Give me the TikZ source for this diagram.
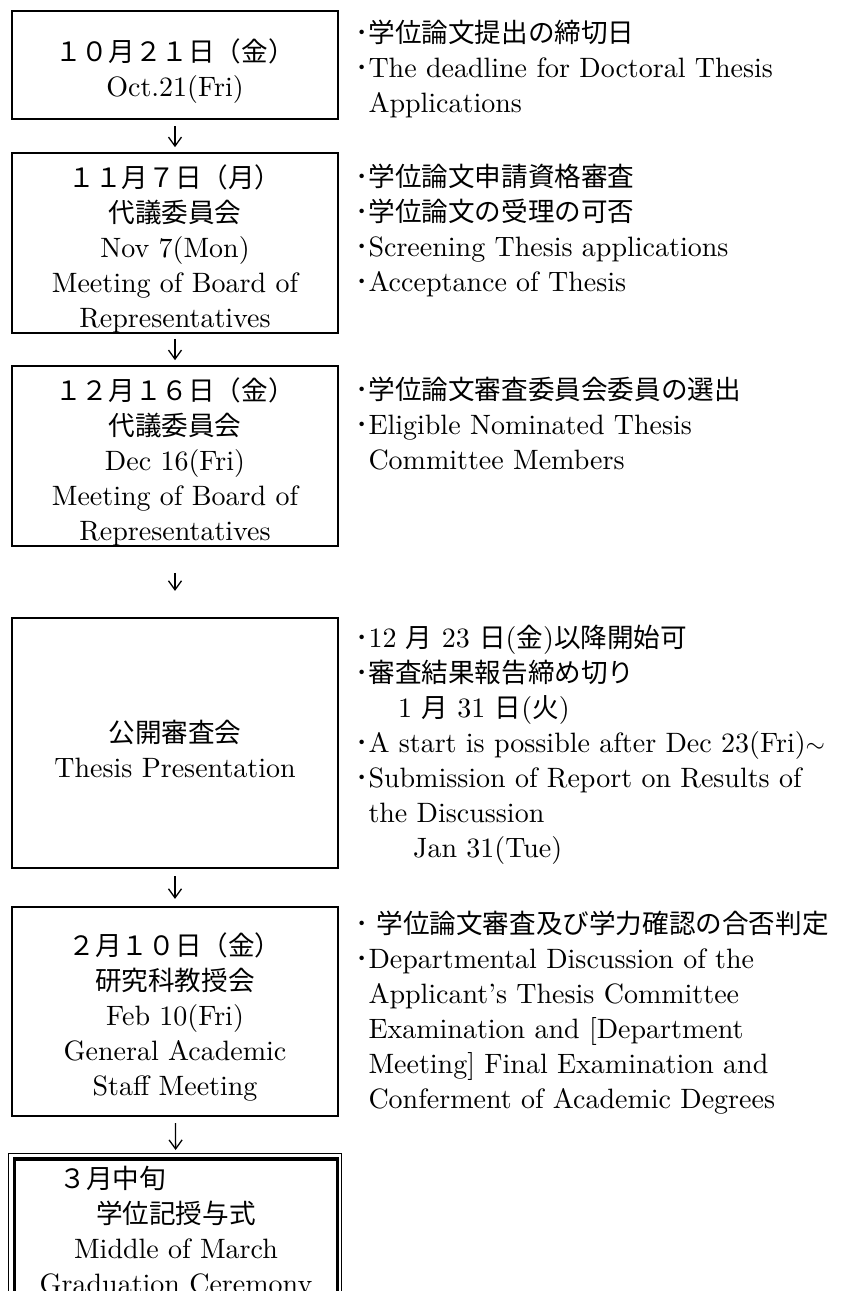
\documentclass[tikz,border=0pt]{standalone}
\usepackage{fontspec}
\setmainfont{lmroman10-regular.otf}[BoldFont=lmroman10-bold.otf, ItalicFont=lmroman10-italic.otf]
\newfontfamily\jpfont{Noto Sans CJK JP}[Scale=0.95]
\newcommand{\ja}[1]{{\jpfont #1}}
\newcommand{\bul}{\ja{･}}
\newcommand{\nobul}{\phantom{\ja{･}}}
\usetikzlibrary{arrows.meta, positioning}

\tikzset{
  stepbox/.style={draw, line width=2.2pt, minimum width=326pt, text width=310pt,
    align=center, inner sep=0pt, font=\fontsize{28}{35}\selectfont},
  textlow/.style={execute at begin node={\rule{0pt}{34pt}}},
  note/.style={anchor=north west, align=left, inner sep=0pt,
    font=\fontsize{28}{35}\selectfont},
  flow/.style={-{Straight Barb[length=9pt,width=13pt]}, line width=1.3pt},
}

\begin{document}
\begin{tikzpicture}[x=1pt, y=-1pt]
  \useasboundingbox (0,0) rectangle (859,1291);

  % schedule boxes
  \node[stepbox, textlow, minimum height=108pt] (oct) at (175,65)
    {\ja{１０月２１日（金）}\\Oct.21(Fri)};
  \node[stepbox, textlow, minimum height=176pt] (nov) at (175,243)
    {\ja{１１月７日（月）}\\\ja{代議委員会}\\Nov 7(Mon)\\Meeting of Board of\\Representatives};
  \node[stepbox, textlow, minimum height=176pt] (dec) at (175,456)
    {\ja{１２月１６日（金）}\\\ja{代議委員会}\\Dec 16(Fri)\\Meeting of Board of\\Representatives};
  \node[stepbox, textlow, minimum height=250pt] (pres) at (175,743)
    {\ja{公開審査会}\\Thesis Presentation};
  \node[stepbox, textlow, minimum height=209pt] (feb) at (175,1011.5)
    {\ja{２月１０日（金）}\\\ja{研究科教授会}\\Feb 10(Fri)\\General Academic\\Staff Meeting};
  \node[stepbox, line width=3.5pt, minimum width=323pt, anchor=north, inner ysep=7pt] (mar) at (176,1157)
    {\ja{３月中旬}\hspace*{126pt}\null\\\ja{学位記授与式}\\Middle of March\\Graduation Ceremony};
  \draw[line width=1.2pt] ([shift={(-4,-3.5)}]mar.north west) rectangle ([shift={(2,0)}]mar.south east);

  % arrows between steps
  \draw[flow, shorten <=6pt, shorten >=5pt] (oct) -- (nov);
  \draw[flow, shorten <=5pt, shorten >=5pt] (nov) -- (dec);
  \draw[flow, shorten <=26pt, shorten >=26pt] (dec) -- (pres);
  \draw[flow, shorten <=7pt, shorten >=7pt] (pres) -- (feb);
  \draw[flow, shorten <=6pt, shorten >=7pt] (feb) -- (mar);

  % notes on the right
  \node[note] (octnote) at (355,20)
    {\ja{･学位論文提出の締切日}\\\bul The deadline for Doctoral Thesis\\\nobul Applications};
  \node[note] (novnote) at (355,164)
    {\ja{･学位論文申請資格審査}\\\ja{･学位論文の受理の可否}\\\bul Screening Thesis applications\\\bul Acceptance of Thesis};
  \node[note] (decnote) at (355,377)
    {\ja{･学位論文審査委員会委員の選出}\\\bul Eligible Nominated Thesis\\\nobul Committee Members};
  \node[note] (presnote) at (355,625)
    {\bul 12 \ja{月} 23 \ja{日}(\ja{金})\ja{以降開始可}\\
     \ja{･審査結果報告締め切り}\\
     \hspace*{43pt}1 \ja{月} 31 \ja{日}(\ja{火})\\
     \bul A start is possible after Dec 23(Fri)$\sim$\\
     \bul Submission of Report on Results of\\
     \nobul the Discussion\\
     \hspace*{58pt}Jan 31(Tue)};
  \node[note] (febnote) at (355,911)
    {\ja{･\hspace{8pt}学位論文審査及び学力確認の合否判定}\\
     \bul Departmental Discussion of the\\
     \nobul Applicant’s Thesis Committee\\
     \nobul Examination and [Department\\
     \nobul Meeting] Final Examination and\\
     \nobul Conferment of Academic Degrees};
\end{tikzpicture}
\end{document}
